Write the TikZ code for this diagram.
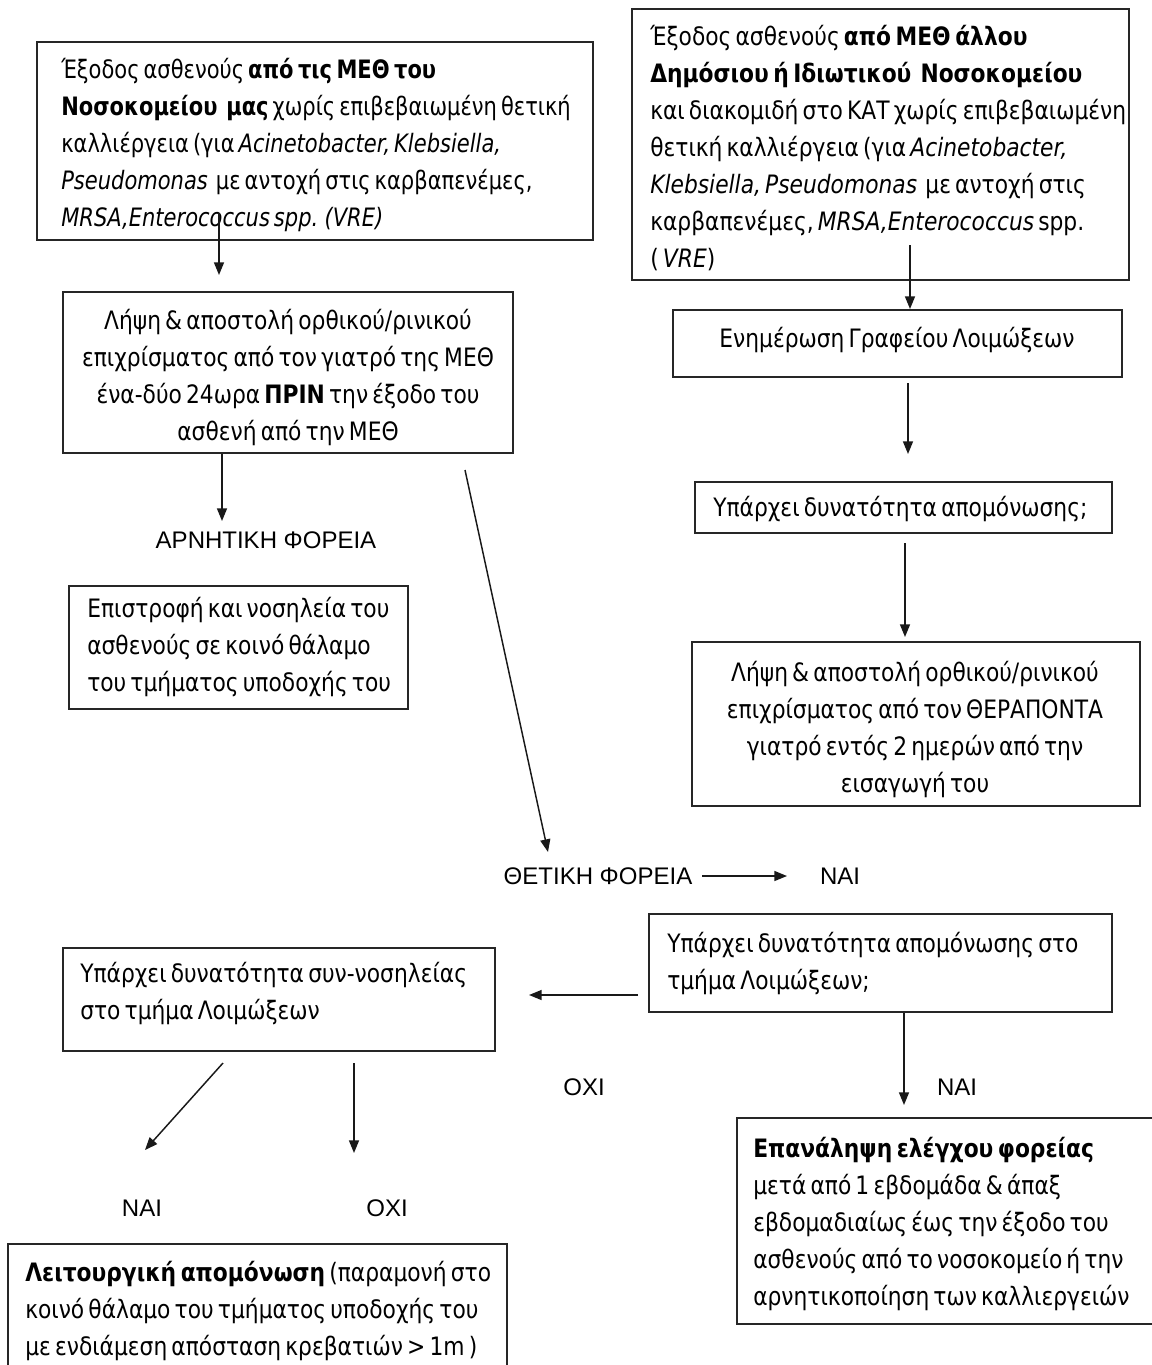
\documentclass[tikz,border=0pt]{standalone}
\usepackage{fontspec}
\setmainfont{DejaVu Sans}[FakeStretch=0.86, WordSpace=0.6]
\newfontfamily\narrowtxt{DejaVu Sans}[FakeStretch=0.83, WordSpace=0.6]
\newfontfamily\lblfont{Liberation Sans}
\usetikzlibrary{arrows.meta,fit}

\tikzset{
  box/.style={draw=black!85, line width=1.5pt, inner sep=0pt},
  txt/.style={inner sep=0pt, text=black,
    font=\fontsize{19pt}{27.75pt}\selectfont,
    execute at begin node=\strut, execute at end node=\strut},
  lt/.style={txt, align=left, anchor=west},
  ct/.style={txt, align=center, anchor=center},
  lbl/.style={inner sep=0pt, text=black, font=\lblfont\fontsize{18pt}{20pt}\selectfont},
  arr/.style={line width=1.1pt, black!90, -{Triangle[length=9.5pt,width=7.5pt]}}
}

\begin{document}
\begin{tikzpicture}[x=0.75pt,y=-0.75pt]
\useasboundingbox (0,0) rectangle (1152,1365);
\fill[white] (0,0) rectangle (1152,1365);
\clip (0,0) rectangle (1152,1365);

% ---- boxes ----
\node[box, fit={(37,42) (593,240)}]    (a) {};
\node[box, fit={(632,9) (1129,280)}]   (b) {};
\node[box, fit={(63,292) (513,453)}]   (c) {};
\node[box, fit={(69,586) (408,709)}]   (d) {};
\node[box, fit={(673,310) (1122,377)}] (e) {};
\node[box, fit={(695,482) (1112,533)}] (f) {};
\node[box, fit={(692,642) (1140,806)}] (g) {};
\node[box, fit={(649,914) (1112,1012)}] (h) {};
\node[box, fit={(63,948) (495,1051)}]  (i) {};
\node[box, fit={(8,1244) (507,1380)}]  (j) {};
\node[box, fit={(737,1118) (1175,1324)}] (k) {};

% ---- box texts ----
\node[lt, font=\narrowtxt\fontsize{19pt}{27.75pt}\selectfont] (aT) at (61,148)
  {Έξοδος ασθενούς \textbf{από τις ΜΕΘ του}\\
  \textbf{Νοσοκομείου\ \ μας} χωρίς επιβεβαιωμένη θετική\\
  καλλιέργεια (για \textit{Acinetobacter, Klebsiella,}\\
  \textit{Pseudomonas}\ \ με αντοχή στις καρβαπενέμες,\\
  \textit{MRSA,Enterococcus spp. (VRE)}};

\node[lt] (bT) at (650,152) {Έξοδος ασθενούς \textbf{από ΜΕΘ άλλου}\\
  \textbf{Δημόσιου ή Ιδιωτικού\ \ Νοσοκομείου}\\
  και διακομιδή στο ΚΑΤ χωρίς επιβεβαιωμένη\\
  θετική καλλιέργεια (για \textit{Acinetobacter,}\\
  \textit{Klebsiella, Pseudomonas}\ \ με αντοχή στις\\
  καρβαπενέμες,\ \textit{MRSA,Enterococcus} spp.\\
  (\,\textit{VRE})};

\node[ct] (cT) at (288,380) {Λήψη \& αποστολή ορθικού/ρινικού\\
  επιχρίσματος από τον γιατρό της ΜΕΘ\\
  ένα-δύο 24ωρα \textbf{ΠΡΙΝ} την έξοδο του\\
  ασθενή από την ΜΕΘ};

\node[lt] (dT) at (87,650) {Επιστροφή και νοσηλεία του\\
  ασθενούς σε κοινό θάλαμο\\
  του τμήματος υποδοχής του};

\node[ct] (eT) at (897,340) {Ενημέρωση Γραφείου Λοιμώξεων};
\node[lt] (fT) at (713,509) {Υπάρχει δυνατότητα απομόνωσης;};

\node[ct] (gT) at (915,732) {Λήψη \& αποστολή ορθικού/ρινικού\\
  επιχρίσματος από τον ΘΕΡΑΠΟΝΤΑ\\
  γιατρό εντός 2 ημερών από την\\
  εισαγωγή του};

\node[lt] (hT) at (667,966) {Υπάρχει δυνατότητα απομόνωσης στο\\
  τμήμα Λοιμώξεων;};

\node[lt] (iT) at (80,996) {Υπάρχει δυνατότητα συν-νοσηλείας\\
  στο τμήμα Λοιμώξεων};

\node[lt] (jT) at (25,1314) {\textbf{Λειτουργική απομόνωση} (παραμονή στο\\
  κοινό θάλαμο του τμήματος υποδοχής του\\
  με ενδιάμεση απόσταση κρεβατιών > 1m )};

\node[lt] (kT) at (753,1227) {\textbf{Επανάληψη ελέγχου φορείας}\\
  μετά από 1 εβδομάδα \& άπαξ\\
  εβδομαδιαίως έως την έξοδο του\\
  ασθενούς από το νοσοκομείο ή την\\
  αρνητικοποίηση των καλλιεργειών};

% ---- free labels ----
\node[lbl] (neg)  at (266,540)  {ΑΡΝΗΤΙΚΗ ΦΟΡΕΙΑ};
\node[lbl] (pos)  at (598,876)  {ΘΕΤΙΚΗ ΦΟΡΕΙΑ};
\node[lbl] (yes1) at (840,876)  {ΝΑΙ};
\node[lbl] (no1)  at (584,1087) {ΟΧΙ};
\node[lbl] (yes2) at (957,1087) {ΝΑΙ};
\node[lbl] (yes3) at (142,1208) {ΝΑΙ};
\node[lbl] (no2)  at (387,1208) {ΟΧΙ};

% ---- connector end points ----
\coordinate (aOut) at (219,213);
\coordinate (cIn)  at (219,275);
\coordinate (bOut) at (910,245);
\coordinate (negIn) at (222,521);
\coordinate (cDiag) at (465,470);
\coordinate (posIn) at (548,852);
\coordinate (posOut) at (702,876);
\coordinate (yesIn) at (787,876);
\coordinate (eOut) at (908,383);
\coordinate (fIn)  at (908,454);
\coordinate (fOut) at (905,543);
\coordinate (gIn)  at (905,637);
\coordinate (hOut) at (638,995);
\coordinate (iIn)  at (529,995);
\coordinate (kIn)  at (904,1105);
\coordinate (iOutL) at (223,1063);
\coordinate (yes3In) at (145,1150);
\coordinate (iOutR) at (354,1063);
\coordinate (no2In) at (354,1153);

% ---- connectors ----
\draw[arr] (aOut) -- (cIn);
\draw[arr] (bOut) -- (e.north -| bOut);
\draw[arr] (c.south -| negIn) -- (negIn);
\draw[arr] (cDiag) -- (posIn);
\draw[arr] (posOut) -- (yesIn);
\draw[arr] (eOut) -- (fIn);
\draw[arr] (fOut) -- (gIn);
\draw[arr] (hOut) -- (iIn);
\draw[arr] (h.south -| kIn) -- (kIn);
\draw[arr] (iOutL) -- (yes3In);
\draw[arr] (iOutR) -- (no2In);
\end{tikzpicture}
\end{document}
